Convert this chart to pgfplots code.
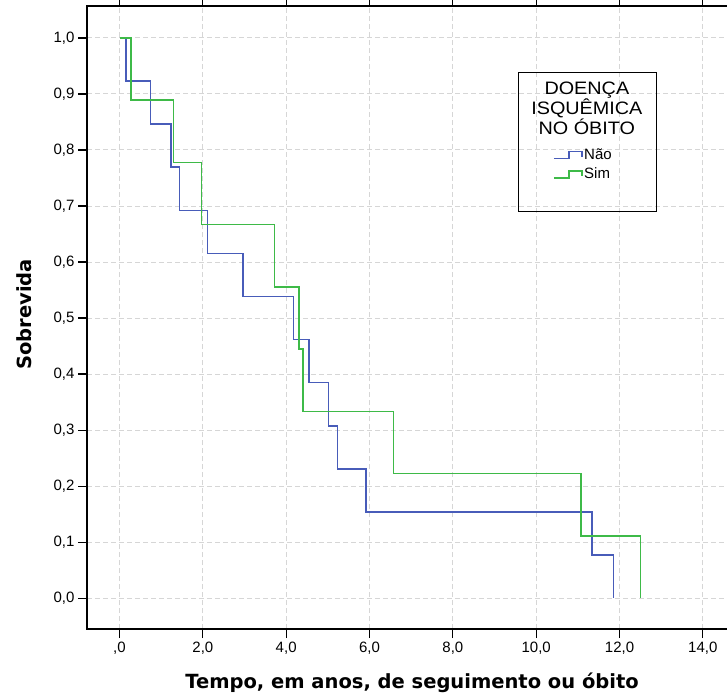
\documentclass[border=0pt]{standalone}
\usepackage{fontspec}
\setmainfont{Liberation Sans}
\newfontfamily\titlefont{DejaVu Sans}
\newfontfamily\legtitlefont[FakeStretch=1.1]{Liberation Sans}
\usepackage{pgfplots}
\pgfplotsset{compat=1.18}
\definecolor{kmblue}{RGB}{72,92,185}
\definecolor{kmgreen}{RGB}{62,186,72}
\begin{document}
\begin{tikzpicture}
\useasboundingbox (0,0) rectangle (727pt,697pt);
\begin{axis}[
  at={(87pt,68pt)}, anchor=south west,
  width=645pt, height=623pt, scale only axis,
  xmin=-0.78, xmax=14.70, ymin=-0.055, ymax=1.057,
  xtick={0,2,4,6,8,10,12,14},
  xticklabels={{,0},{2,0},{4,0},{6,0},{8,0},{10,0},{12,0},{14,0}},
  ytick={0,0.1,0.2,0.3,0.4,0.5,0.6,0.7,0.8,0.9,1.0},
  yticklabels={{0,0},{0,1},{0,2},{0,3},{0,4},{0,5},{0,6},{0,7},{0,8},{0,9},{1,0}},
  tick align=outside,
  major tick length=9pt,
  tick style={black, line width=1.2pt},
  axis line style={black, line width=1.3pt},
  grid=major,
  major grid style={dash pattern=on 5pt off 3pt, black!16, line width=1pt},
  tick label style={font=\fontsize{15}{18}\selectfont},
  /pgf/number format/assume math mode=true,
  xlabel={Tempo, em anos, de seguimento ou óbito},
  ylabel={Sobrevida},
  label style={font=\titlefont\bfseries\fontsize{19.5}{23}\selectfont},
  xlabel style={at={(axis description cs:0.504,-0.087)}, anchor=center},
  ylabel style={at={(axis description cs:-0.097,0.505)}, anchor=center},
  legend style={at={(rel axis cs:0.7225,0.774)}, anchor=north west, draw=none, fill=none,
    font=\fontsize{15}{17}\selectfont, inner sep=0pt, row sep=4pt,
    nodes={inner sep=1.5pt}},
  legend cell align=left,
  legend image code/.code={\draw[#1] (0pt,-4pt) -- (15pt,-4pt) -- (15pt,3pt) -- (28pt,3pt) -- (28pt,-2pt);},
]
\addplot[const plot, kmblue, line width=1.5pt] coordinates {
(0,1) (0.16,0.9231) (0.74,0.8462) (1.24,0.7692) (1.44,0.6923) (2.11,0.6154)
(2.96,0.5385) (4.18,0.4615) (4.55,0.3846) (5.02,0.3077) (5.23,0.2308)
(5.91,0.1538) (11.34,0.0769) (11.85,0)};
\addlegendentry{Não}
\addplot[const plot, kmgreen, line width=1.5pt] coordinates {
(0,1) (0.28,0.8889) (1.30,0.7778) (1.97,0.6667) (3.72,0.5556) (4.31,0.4444)
(4.40,0.3333) (6.58,0.2222) (11.07,0.1111) (12.50,0)};
\addlegendentry{Sim}
\node[draw=black, line width=1pt, minimum width=138pt, minimum height=139pt, anchor=north west, inner sep=0pt, fill=none]
  at (rel axis cs:0.668,0.894) {};
\node[align=center, font=\legtitlefont\fontsize{18}{19.5}\selectfont, anchor=north, inner sep=0pt]
  at (rel axis cs:0.775,0.879) {DOENÇA\\ISQUÊMICA\\NO ÓBITO};
\end{axis}
\end{tikzpicture}
\end{document}
